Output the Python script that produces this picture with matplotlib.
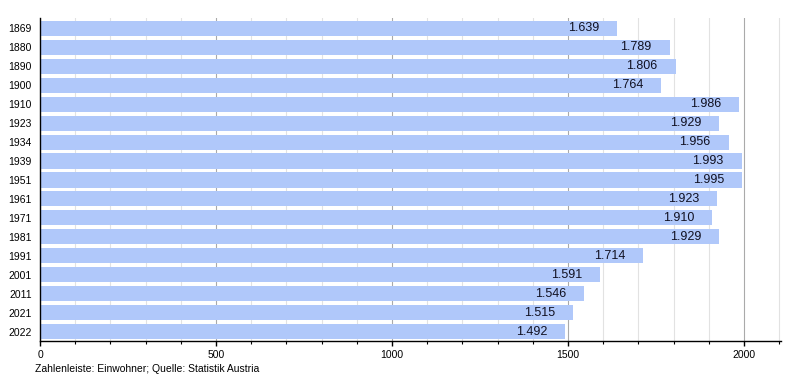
import matplotlib
matplotlib.use('Agg')
import matplotlib.pyplot as plt
from matplotlib.ticker import MultipleLocator

years = ["1869", "1880", "1890", "1900", "1910", "1923", "1934", "1939", "1951",
         "1961", "1971", "1981", "1991", "2001", "2011", "2021", "2022"]
population = [1639, 1789, 1806, 1764, 1986, 1929, 1956, 1993, 1995,
              1923, 1910, 1929, 1714, 1591, 1546, 1515, 1492]

plt.rcParams['font.family'] = ['Liberation Sans', 'DejaVu Sans']

fig = plt.figure(figsize=(8, 3.8), dpi=100)
ax = fig.add_axes([40 / 800, 1 - 341 / 380, 741 / 800, 323 / 380])

ypos = list(range(len(years)))
ax.barh(ypos, population, height=0.8, color="#b0c8fa", zorder=2)

for y, v in zip(ypos, population):
    label = f"{v / 1000:.3f}"
    ax.annotate(label, xy=(v, y), xytext=(-18, 0), textcoords="offset pixels",
                ha="right", va="center", fontsize=9, color="#111122", zorder=3)

ax.set_xlim(0, 2105)
ax.set_ylim(len(years) - 0.5, -0.55)
ax.set_yticks(ypos)
ax.set_yticklabels(years, fontsize=7.5)
ax.tick_params(axis="y", length=0, pad=6)

ax.xaxis.set_major_locator(MultipleLocator(500))
ax.xaxis.set_minor_locator(MultipleLocator(100))
ax.tick_params(axis="x", which="major", length=3.5, width=1, labelsize=7.5, pad=3)
ax.tick_params(axis="x", which="minor", length=2.5, width=0.8)
ax.grid(True, axis="x", which="major", color="#aaaaaa", linewidth=0.8, zorder=0)
ax.grid(True, axis="x", which="minor", color="#e2e2e2", linewidth=0.8, zorder=0)

for side in ["top", "right"]:
    ax.spines[side].set_visible(False)
ax.spines["left"].set_linewidth(1)
ax.spines["bottom"].set_linewidth(1)

fig.text(35 / 800, 1 - 369 / 380, "Zahlenleiste: Einwohner; Quelle: Statistik Austria",
         fontsize=7.5, va="center", ha="left")

plt.savefig("out.png", dpi=100)
plt.close()
